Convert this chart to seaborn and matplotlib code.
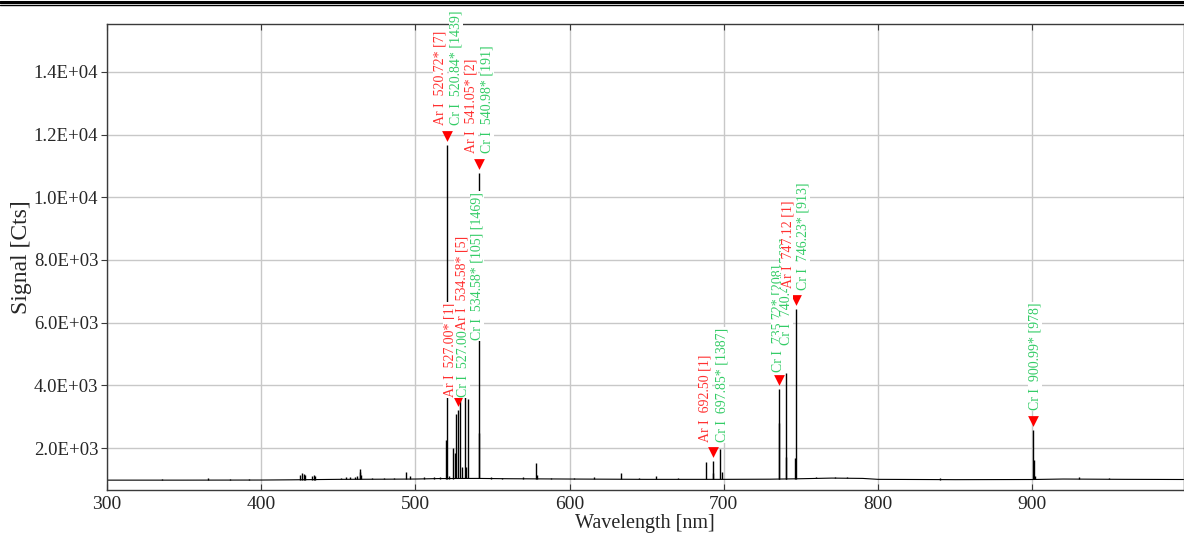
import numpy as np
import matplotlib
matplotlib.use("Agg")
import matplotlib.pyplot as plt
import matplotlib.transforms as mtransforms
from matplotlib.lines import Line2D
import seaborn as sns

# continuum level
base_wl = [300, 350, 400, 420, 450, 480, 500, 515, 540, 560, 600, 650, 700, 730,
           750, 770, 790, 800, 850, 900, 920, 960, 998]
base_sig = [975, 975, 978, 985, 1000, 1005, 1010, 1025, 1030, 1020, 1010, 1000, 1000,
            1005, 1020, 1040, 1030, 1000, 990, 995, 1010, 1000, 995]

# emission lines: position [nm] and peak signal [Cts]
line_wl = [336.0, 365.6, 380.0, 392.0, 425.2, 426.5, 427.7, 428.8, 433.4, 434.5,
           435.2, 452.0, 455.0, 458.0, 461.0, 462.5, 464.0, 464.4, 465.0, 472.0,
           480.0, 486.0, 494.2, 496.8, 506.0, 512.0, 516.0, 519.9, 520.72, 521.8,
           524.4, 526.0, 526.6, 527.4, 529.2, 530.3, 532.4, 533.0, 534.5, 541.05,
           541.3, 549.0, 556.0, 569.8, 578.4, 579.0, 588.0, 603.0, 616.0, 633.5,
           645.0, 656.0, 670.0, 688.6, 692.7, 693.3, 697.7, 698.6, 735.7, 736.0,
           740.2, 740.6, 746.0, 746.7, 760.0, 772.0, 780.0, 840.0, 900.7, 901.2,
           901.6, 930.0, 950.0, 975.0]
line_sig = [1010, 1030, 1010, 1000, 1150, 1190, 1170, 1140, 1100, 1130,
            1110, 1050, 1060, 1070, 1080, 1120, 1230, 1330, 1150, 1050,
            1040, 1050, 1230, 1100, 1060, 1080, 1070, 2250, 11680, 1100,
            2000, 1840, 3100, 3200, 3630, 1400, 3630, 1400, 3560, 10770,
            2480, 1080, 1050, 1080, 1520, 1150, 1040, 1050, 1060, 1200,
            1050, 1100, 1050, 1550, 1580, 1200, 1970, 1250, 3870, 2800,
            4390, 1700, 1680, 6450, 1060, 1070, 1060, 1030, 2570, 1620,
            1100, 1060, 1030, 1020]

# identified peaks (red markers)
marker_wl = [520.72, 527.4, 541.05, 692.7, 735.7, 746.7, 900.7]
marker_sig = [11680, 3200, 10770, 1580, 3870, 6450, 2570]

# line identification labels
label_text = ["Ar I  520.72* [7]", "Cr I  520.84* [1439]",
              "Ar I  541.05* [2]", "Cr I  540.98* [191]",
              "Ar I  527.00* [1]", "Cr I  527.00* [1469]",
              "Ar I  534.58* [5]", "Cr I  534.58* [105] [1469]",
              "Ar I  692.50 [1]", "Cr I  697.85* [1387]",
              "Cr I  735.72* [208]", "Cr I  740.41* [560]",
              "Ar I  747.12 [1]", "Cr I  746.23* [913]",
              "Cr I  900.99* [978]"]
label_elem = ["Ar", "Cr", "Ar", "Cr", "Ar", "Cr", "Ar", "Cr", "Ar", "Cr",
              "Cr", "Cr", "Ar", "Cr", "Cr"]
label_wl = [516.0, 526.4, 536.1, 546.5, 522.5, 530.9, 530.0, 540.1, 687.8, 698.8,
            735.2, 740.4, 741.6, 751.3, 901.7]
label_sig = [12300, 12300, 11410, 11410, 3630, 3630, 5760, 5450, 2190, 2190,
             4420, 5290, 7100, 7040, 3210]

elem_colors = {"Ar": "#ff3030", "Cr": "#33cc66"}

sns.set_style("whitegrid", {"grid.color": "#c8c8c8", "axes.edgecolor": "#3a3a3a"})
plt.rcParams["font.family"] = ["Liberation Serif", "DejaVu Serif"]

fig = plt.figure(figsize=(11.84, 5.39), dpi=100)
ax = fig.add_axes([0.0901, 0.0909, 0.9095, 0.8646])

# spectrum: continuum plus emission lines
sns.lineplot(x=base_wl, y=base_sig, ax=ax, color="black", linewidth=0.8, zorder=2)
line_base = np.interp(line_wl, base_wl, base_sig)
ax.vlines(line_wl, line_base, line_sig, color="black", linewidth=1.0, zorder=2)

# markers sit a few pixels above the peak tops
marker_tr = mtransforms.offset_copy(ax.transData, fig=fig, y=9, units="dots")
sns.scatterplot(x=marker_wl, y=marker_sig, ax=ax, marker="v", color="#ff0000",
                s=60, linewidth=0, transform=marker_tr, zorder=4, legend=False)

for txt, el, wl, sig in zip(label_text, label_elem, label_wl, label_sig):
    ax.text(wl, sig, txt, rotation=90, ha="center", va="bottom", fontsize=10,
            color=elem_colors[el], zorder=5, clip_on=False,
            bbox=dict(facecolor="white", edgecolor="none", pad=0.6))

ax.set_xlim(300, 998)
ax.set_ylim(660, 15530)
ax.set_xticks([300, 400, 500, 600, 700, 800, 900])
ax.set_yticks([2000, 4000, 6000, 8000, 10000, 12000, 14000])
ax.set_yticklabels([f"{v:.1E}" for v in ax.get_yticks()])
ax.tick_params(axis="x", direction="in", top=True, bottom=True, length=4,
               labelsize=14, pad=4, color="#3a3a3a")
ax.tick_params(axis="y", direction="out", left=True, length=4,
               labelsize=13.5, pad=2, color="#3a3a3a")
for s in ax.spines.values():
    s.set_linewidth(1.0)
ax.grid(True, linewidth=1.0)
ax.set_xlabel("Wavelength [nm]", fontsize=14.5, labelpad=1)
ax.set_ylabel("Signal [Cts]", fontsize=17, labelpad=1)

# document header rules
fig.add_artist(Line2D([0, 1], [0.9965, 0.9965], color="black", linewidth=2.2))
fig.add_artist(Line2D([0, 1], [0.9915, 0.9915], color="black", linewidth=1.0))

fig.savefig("out.png", dpi=100)
